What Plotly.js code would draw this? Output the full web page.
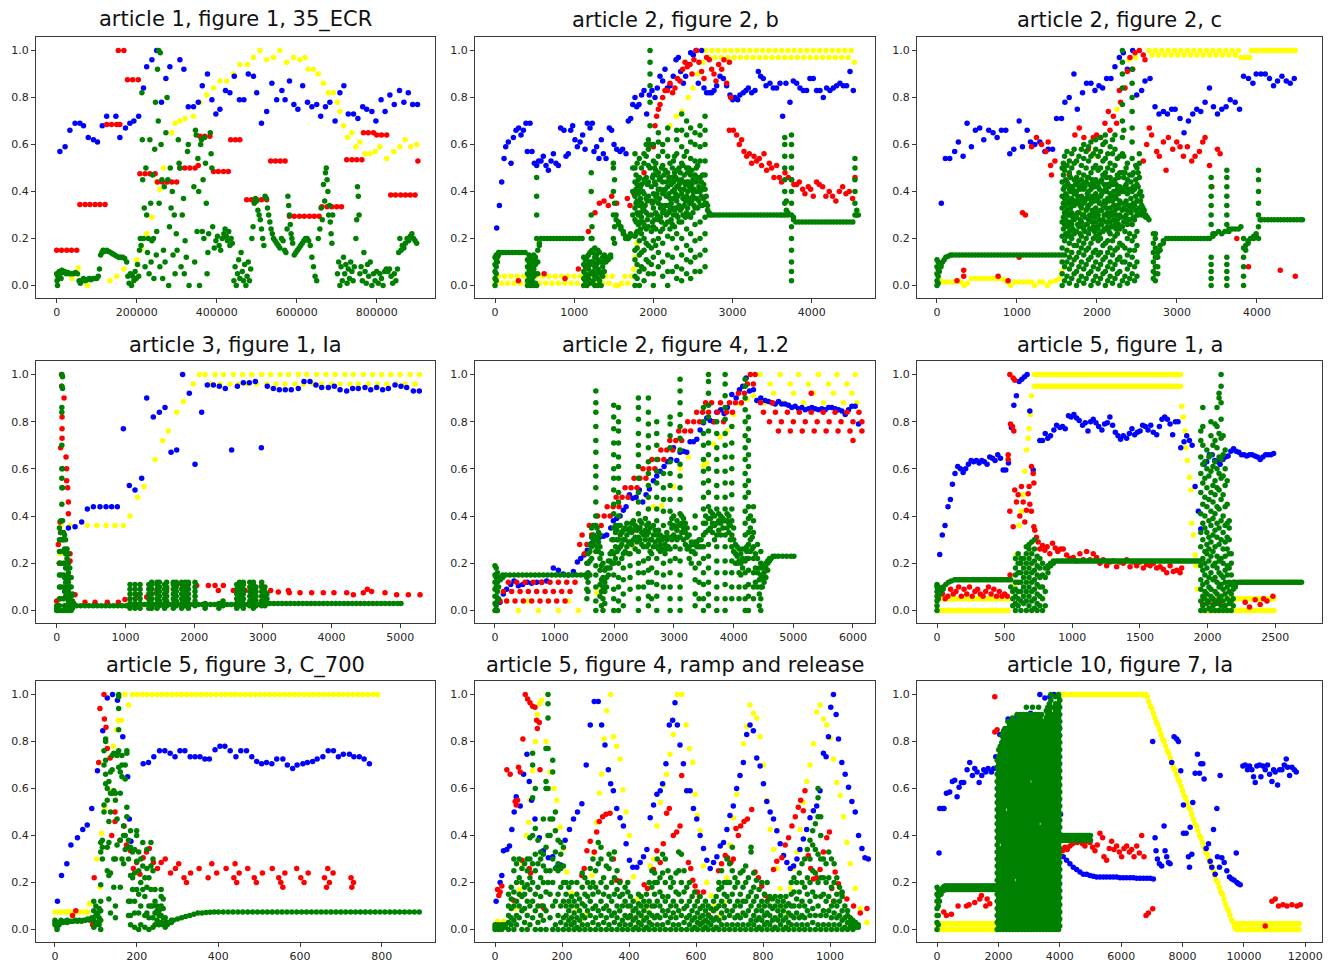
<!DOCTYPE html>
<html><head><meta charset="utf-8">
<script src="https://cdn.plot.ly/plotly-3.0.1.min.js"></script>
<style>html,body{margin:0;padding:0;background:#fff}#chart{width:1338px;height:965px}</style>
</head><body><div id="chart"></div>
<script>
// ---------- DATA (cols: [x, y1, y2, ...]; rows: [y, x1, x2, ...]) ----------
const titles = ["article 1, figure 1, 35_ECR","article 2, figure 2, b","article 2, figure 2, c","article 3, figure 1, Ia","article 2, figure 4, 1.2","article 5, figure 1, a","article 5, figure 3, C_700","article 5, figure 4, ramp and release","article 10, figure 7, Ia"];
const yTickVals = [0,0.2,0.4,0.6,0.8,1.0];
const yTickText = ["0.0","0.2","0.4","0.6","0.8","1.0"];
const xTickSteps = [200000,1000,1000,1000,1000,500,200,200,2000];

// panel 1 (x in thousands)
const p1_blue = [[8,.57],[21,.59],[33,.66],[46,.69],[58,.69],[67,.68],[79,.63],[92,.62],[102,.61],[114,.68],[125,.72],[148,.72],[158,.63],[172,.67],[183,.69],[193,.70],[205,.72],[217,.84],[225,.93],[238,.96],[250,1.0],[262,.78],[273,.88],[283,.93],[308,.96],[318,.92],[329,.76],[342,.76],[354,.78],[364,.85],[377,.90],[388,.79],[398,.73],[408,.75],[422,.83],[433,.82],[444,.89],[457,.79],[468,.79],[479,.90],[492,.89],[500,.82],[512,.69],[525,.74],[538,.86],[550,.79],[563,.83],[571,.79],[582,.87],[593,.77],[603,.75],[615,.85],[627,.78],[638,.76],[650,.77],[660,.72],[672,.76],[683,.78],[696,.70],[708,.82],[718,.85],[729,.73],[742,.73],[753,.71],[765,.76],[775,.75],[788,.74],[798,.70],[811,.79],[821,.74],[833,.81],[844,.77],[857,.83],[868,.78],[879,.82],[890,.77],[902,.77]];
const p1_red_rows = [[0.15,0,12,25,37,50],[0.345,58,71,83,96,108,121],[0.685,125,137,150,158],[1.0,154,168],[0.875,177,190,204],[0.475,208,221,233,246],[0.44,252,264,276,288,300],[0.50,308,320,333,346],[0.51,354],[0.635,358,370,383],[0.485,392,404,417,429],[0.62,435,447,458],[0.365,475,487,500,512,525],[0.53,535,547,559,571],[0.295,582,594,607,619,632,644,656],[0.335,663,676,688,700,712],[0.535,725,738,750,763],[0.65,767,779,792],[0.64,800,812,825],[0.385,835,847,860,872,884,896],[0.53,903]];
const p1_yellow = [[8,.04],[38,.03],[54,.075],[77,0],[133,.02],[150,.04],[168,.07],[200,.11],[213,.16],[225,.22],[238,.29],[250,.44],[258,.41],[267,.50],[288,.65],[296,.69],[308,.70],[321,.71],[342,.72],[358,.78],[375,.81],[392,.84],[408,.87],[425,.87],[442,.90],[458,.94],[477,.94],[492,.97],[508,1.0],[525,.96],[542,.97],[558,1.0],[575,.95],[592,.97],[608,.96],[621,.97],[629,.92],[642,.92],[654,.90],[667,.86],[679,.82],[692,.82],[702,.78],[708,.74],[717,.68],[727,.63],[738,.65],[748,.59],[758,.61],[771,.56],[783,.56],[796,.57],[808,.59],[825,.54],[842,.57],[858,.59],[871,.62],[885,.59],[900,.60]];
const p1_green = [[0,.05],[1,.02],[2,0],[3,.04],[5,.03],[6,.06],[8,.05],[11,.03],[13,.065],[16,.055],[20,.06],[24,.05],[28,.055],[32,.05],[37,.05],[42,.05],[47,.055],[52,.05],[56,.02],[59,.01],[63,.02],[67,.03],[71,.02],[76,.025],[81,.03],[86,.025],[91,.03],[96,.03],[100,.03],[104,.04],[107,.07],
[110,.13],[113,.14],[116,.15],[120,.145],[125,.15],[130,.145],[135,.14],[140,.135],[145,.13],[150,.125],[155,.12],[160,.12],[165,.12],[170,.115],[175,.1],
[178,.04],[181,.01],[184,.05],[187,0],[190,.04],[193,.02],[196,.06],[199,.03],[202,.09],[205,.04],[207,.15],
[209,.2],[211,.17],[213,.82],[214,.62],[215,.45],[217,.2],[219,.33],[221,.08],[223,.5],[225,.3],[227,.14],[229,.2],[231,.05],[233,.62],[235,.35],[236,.1],[238,.19],[240,.47],[242,.2],[243,.03],[245,.58],[247,.78],[249,.13],[250,.23],[252,.92],[254,.7],[255,1.0],[256,.35],[258,.08],[259,.99],[261,.6],[263,.45],[265,.03],[267,.15],[269,.42],[271,.1],[273,.65],
[276,.8],[278,.45],[280,0],[282,.25],[284,.5],[286,.33],[289,.4],[291,.13],[294,.3],[296,.05],[299,.22],[301,.15],[304,.62],[306,.52],[308,.5],[311,.08],[314,.3],[317,.37],[319,.05],[321,.19],[324,.12],[327,.57],[329,.6],[331,0],
[343,.42],[345,.1],[347,.66],[349,.64],[351,.23],[353,.54],[355,.4],[357,0],[360,.6],[362,.62],[364,.23],[366,.45],[368,.2],[370,.63],[372,.52],[374,.35],[376,.05],[378,.14],[380,.22],[384,.65],[386,.56],[388,.5],[390,.25],
[394,.16],[398,.19],[402,.21],[406,.17],[410,.15],[414,.2],[418,.22],[421,.24],[424,.21],[427,.19],[430,.23],[433,.17],[436,.2],[439,.18],
[443,.02],[446,.08],[449,0],[452,.05],[455,.11],[458,.03],[461,.14],[464,.06],[467,.02],[470,.09],[473,0],[476,.04],[479,.1],[482,.02],[485,.07],[488,.2],
[491,.25],[494,.35],[497,.37],[500,.36],[503,.32],[506,.3],[509,.28],[512,.24],[515,.2],[518,.17],[521,.38],[524,.37],[527,.33],[530,.3],[533,.27],[536,.24],[539,.22],[542,.2],[546,.19],[550,.18],[554,.17],[558,.16],[562,.2],[566,.19],[570,.15],[573,.14],
[576,.24],[578,.38],[580,.34],[582,.3],[584,.26],[586,.22],[588,.2],[590,.18],
[594,.13],[598,.14],[602,.15],[606,.16],[610,.17],[614,.18],[618,.19],[622,.2],[626,.2],[630,.19],[634,.17],[638,.12],[642,.08],[646,.04],[650,.02],[654,.2],
[658,.24],[661,.33],[664,.28],[667,.43],[670,.36],[672,.48],[674,.5],[676,.45],[678,.4],[680,.3],[682,.34],[684,.27],[686,.22],[688,.18],[690,.3],
[702,.05],[705,.1],[708,0],[711,.08],[714,.02],[717,.12],[720,.05],[723,.09],[726,.01],[729,.07],[732,.03],[735,.1],[738,.06],[741,.02],[744,.08],[748,.2],[750,.28],[752,.42],[754,.38],[756,.3],[758,.05],[761,.08],[764,.02],
[768,.14],[771,.06],[774,.01],[777,.09],[780,.04],[784,.1],[788,0],[792,.05],[796,.02],[800,.06],[804,.01],[808,.05],[812,.03],[816,0],[820,.06],[824,.07],[828,.06],[832,.07],[836,.04],[840,.01],[844,.05],[848,.02],
[852,.07],[855,.14],[858,.2],[861,.15],[864,.17],[868,.16],[872,.18],[876,.2],[880,.19],[884,.21],[888,.22],[892,.2],[896,.19],[900,.18]];

// panel 2
const p2_blue = [[21,.245],[55,.34],[84,.44],[114,.54],[135,.59],[168,.61],[202,.52],[232,.63],[265,.66],[299,.67],[328,.64],[358,.66],[391,.69],[408,.57],[442,.69],[467,.57],[497,.52],[526,.51],[551,.53],[581,.53],[610,.55],[644,.51],[674,.49],[707,.53],[737,.56],[770,.52],[800,.51],[829,.67],[871,.66],[897,.55],[926,.56],[956,.66],[981,.68],[1010,.62],[1040,.59],[1074,.61],[1107,.64],[1137,.58],[1166,.69],[1200,.67],[1229,.69],[1250,.57],[1284,.59],[1313,.54],[1343,.62],[1368,.56],[1402,.54],[1444,.67],[1473,.66],[1503,.60],[1537,.58],[1579,.57],[1612,.58],[1655,.56],[1684,.70],[1714,.71],[1739,.77],[1768,.80],[1790,.76],[1819,.77],[1852,.81],[1882,.83],[1916,.73],[1949,.81],[1983,.83],[2021,.80],[2050,.84],[2084,.89],[2118,.87],[2147,.92],[2177,.84],[2210,.85],[2252,.89],[2286,.96],[2316,.97],[2345,.91],[2379,.86],[2408,.89],[2442,.94],[2471,.99],[2505,.98],[2539,1.0],[2568,.86],[2610,1.0],[2640,.84],[2673,.82],[2707,.82],[2737,.82],[2766,.83],[2800,.85],[2842,.89],[2884,.88],[2926,.85],[2968,.81],[3002,.79],[3031,.80],[3065,.79],[3094,.81],[3136,.82],[3170,.83],[3200,.84],[3242,.82],[3284,.83],[3326,.91],[3355,.89],[3389,.88],[3423,.85],[3473,.86],[3515,.84],[3557,.84],[3600,.86],[3633,.72],[3675,.86],[3726,.78],[3768,.87],[3810,.86],[3852,.84],[3894,.83],[3936,.83],[3978,.88],[4020,.88],[4062,.83],[4105,.83],[4147,.80],[4189,.84],[4231,.83],[4273,.84],[4315,.85],[4357,.86],[4399,.85],[4441,.85],[4484,.91],[4526,.83]];
const p2_red = [[295,.02],[620,.05],[884,.03],[1053,.07],[1179,.23],[1263,.31],[1318,.35],[1377,.36],[1431,.34],[1474,.38],[1537,.35],[1671,.37],[1705,.34],[1755,.39],[1882,.48],[2000,.59],[2021,.68],[2042,.72],[2063,.75],[2084,.77],[2118,.80],[2147,.83],[2177,.83],[2210,.86],[2244,.82],[2273,.84],[2303,.88],[2336,.87],[2370,.92],[2400,.95],[2429,.93],[2463,.94],[2488,.90],[2513,.96],[2547,1.0],[2576,.95],[2610,.91],[2640,.88],[2673,.97],[2707,.96],[2737,.92],[2766,.90],[2791,.87],[2825,.94],[2863,.92],[2892,.96],[2926,.86],[2960,.95],[2977,.80],[2960,.66],[3010,.66],[3052,.64],[3086,.60],[3115,.62],[3145,.57],[3179,.55],[3212,.56],[3242,.52],[3271,.55],[3305,.53],[3339,.54],[3368,.51],[3398,.56],[3431,.49],[3465,.52],[3494,.50],[3524,.46],[3557,.51],[3591,.46],[3620,.44],[3663,.48],[3705,.46],[3747,.45],[3776,.43],[3810,.43],[3844,.44],[3886,.41],[3915,.39],[3957,.42],[3987,.41],[4020,.38],[4062,.44],[4096,.43],[4138,.42],[4180,.38],[4222,.40],[4264,.38],[4306,.36],[4349,.40],[4391,.42],[4433,.39],[4475,.40],[4517,.37],[4547,.46]];
const p2_yellow = [[1750,.07],[1770,.12],[1790,.18],[2210,.68],[2290,.72],[2360,.74],[2440,.8],[2500,.84],[2560,.9],[2620,.95]];
const p2_yellow_rows = [[0.04,40,120,200,280,360,440,520,600,680,760,840,920,1000,1080,1240,1320,1400,1480,1640,1720],[0.01,0,80,160,240,320,400,480,560,640,720,800,880,960,1040,1200,1280,1360,1440,1600,1680],[0,1120,1160,1520,1560],
[1.0,2660,2740,2820,2900,2980,3060,3140,3220,3300,3380,3460,3540,3620,3700,3780,3860,3940,4020,4100,4180,4260,4340,4420,4500],
[0.97,2700,2780,2860,2940,3020,3100,3180,3260,3340,3420,3500,3580,3660,3740,3820,3900,3980,4060,4140,4220,4300,4380,4460],[0.95,4540]];
const p2_green = [[0,0,.03,.06,.09,.12],[15,.02,.05,.08,.11,.13],[30,.1,.12,.13],[45,.13,.14],
[410,0,.02,.05,.08,.11],[430,.01,.04,.07,.1,.13],[450,0,.03,.06,.09,.12],[470,.02,.05,.08,.11],[490,0,.04,.07,.1,.13],[510,.01,.05,.09,.12],[526,0,.1,.2,.3,.38,.46],[540,.05,.1,.15],[560,.17,.18],
[1120,0,.03,.06,.09,.12],[1140,.02,.05,.08,.11],[1160,0,.04,.08,.12],[1180,.03,.07,.1,.13],[1200,.01,.05,.09,.14],[1215,.05,.1,.2,.3,.4,.48],[1225,.1,.15,.2,.25],[1240,.02,.06,.1,.14],[1260,0,.04,.08,.12,.16],[1280,.05,.09,.13],[1300,0,.03,.07,.11,.15],[1320,.02,.06,.1,.14],[1340,0,.05,.1],[1360,.04,.08,.12],[1380,.06,.1,.13],[1400,.1,.12],[1430,.11,.12],[1460,.12,.13],
[1495,.2,.3,.4,.5,.52],[1510,.18,.25,.35,.45],[1530,.3,.28],[1560,.27,.26],[1590,.25,.24],[1620,.23,.22],[1650,.21,.2],[1680,.2,.2],[1710,.21,.22],[1740,.3,.4,.5],
[1768,0,.04,.11,.15,.21,.28,.33,.38,.44,.5,.56],[1782,.22,.27,.35,.41,.47],[1795,.03,.09,.16,.23,.31,.36,.43,.52],[1810,.26,.3,.39,.45],[1823,0,.06,.13,.19,.27,.34,.4,.46,.54],[1838,.24,.31,.37,.42],[1850,.08,.14,.22,.29,.35,.43,.5],[1866,.27,.33,.4],[1882,.02,.07,.15,.2,.26,.32,.39,.45,.52,.56],[1896,.25,.34,.44],[1910,.11,.18,.24,.31,.37,.46,.55,.6],[1924,.28,.36,.43],[1937,.05,.1,.17,.25,.3,.38,.44,.51,.58,.62],[1958,.5,.6,.68,.78,.85,.9,.95,1.0],[1975,.09,.16,.23,.3,.36,.42],[1988,.27,.35,.46],[2000,0,.05,.12,.19,.25,.33,.39,.47,.53,.6],[2015,.28,.36,.44,.5],[2030,.17,.24,.31,.38,.43,.49,.52],[2046,.3,.39,.47],[2063,.08,.14,.2,.28,.35,.41,.48,.55,.61,.65],[2076,.29,.37,.45],[2090,.23,.29,.33,.41,.46],[2104,.27,.34,.5],[2118,.04,.1,.18,.24,.31,.39,.44,.51,.57,.6],[2134,.32,.4,.47],[2150,.26,.34,.41,.49],[2165,.3,.38,.44],[2181,0,.06,.13,.21,.27,.34,.42,.48,.55,.62,.67],[2196,.31,.39,.46],[2210,.24,.32,.37,.45,.52],[2225,.28,.35,.43],[2240,.06,.12,.2,.26,.33,.4,.46,.5],[2254,.3,.37,.44,.53],[2268,.25,.32,.41,.48,.55],[2282,.33,.39,.46],[2295,.03,.08,.16,.22,.3,.36,.42,.49,.56,.62,.66],[2310,.29,.38,.45],[2325,.27,.34,.43,.5],[2340,.32,.41,.48],[2358,.02,.07,.13,.2,.27,.33,.39,.45,.52,.59,.66,.73],[2374,.3,.37,.44,.51],[2390,.34,.41,.47,.55],[2405,.29,.36,.43],[2420,.05,.11,.17,.24,.31,.38,.44,.5,.57,.64,.7],[2433,.33,.4,.48],[2445,.3,.37,.44,.5],[2458,.35,.42],[2471,.03,.1,.15,.22,.29,.35,.41,.47,.54,.61,.67],[2486,.36,.43,.49],[2500,.31,.38,.45,.4],[2513,.34,.41],[2526,.06,.12,.19,.26,.33,.4,.47,.53,.6,.65],[2543,.37,.44,.5],[2560,.33,.4,.46,.51],[2575,.36,.42],[2590,.06,.13,.2,.27,.34,.4,.46,.53,.59,.64,.68],[2605,.38,.44],[2620,.34,.41,.47],[2636,.37,.43],[2653,.08,.15,.22,.29,.35,.41,.47,.53,.6,.66,.72],[2668,.38,.35],[2685,.34,.32],[2705,.31,.3],[2730,.3],
[3660,.3,.35,.4,.45,.5,.55,.6,.63],[3680,.32,.36],[3700,.31,.3],[3745,.02,.06,.1,.15,.2,.25,.3,.35,.4,.45,.5,.55,.6,.64],[3770,.29,.28],
[4547,.3,.35,.4,.45,.5,.54],[4570,.3,.32],[4590,.3]];
const p2_green_rows = [[0.14,60,100,140,180,220,260,300,340,380],[0.2,580,620,660,700,740,780,820,860,900,940,980,1020,1060,1100],[0.3,2760,2800,2840,2880,2920,2960,3000,3040,3080,3120,3160,3200,3240,3280,3320,3360,3400,3440,3480,3520,3560,3600,3630],[0.27,3800,3840,3880,3920,3960,4000,4040,4080,4120,4160,4200,4240,4280,4320,4360,4400,4440,4480,4520]];

// panel 3
const p3_blue = [[54,.35],[104,.54],[159,.54],[221,.57],[267,.61],[326,.55],[376,.69],[430,.59],[480,.66],[534,.67],[585,.62],[647,.66],[701,.65],[752,.63],[806,.66],[860,.66],[910,.56],[960,.58],[1027,.70],[1069,.59],[1127,.66],[1169,.61],[1223,.60],[1286,.61],[1349,.57],[1390,.58],[1445,.58],[1495,.71],[1557,.71],[1599,.78],[1653,.80],[1712,.90],[1754,.75],[1820,.82],[1870,.86],[1925,.86],[1975,.83],[2025,.85],[2071,.84],[2121,.88],[2175,.88],[2225,.93],[2280,.97],[2330,.99],[2380,.92],[2447,1.0],[2497,.81],[2559,.83],[2601,.87],[2664,.88],[2726,.76],[2776,.73],[2831,.74],[2881,.73],[2935,.75],[2977,.75],[3039,.71],[3089,.65],[3144,.70],[3198,.73],[3248,.75],[3298,.74],[3352,.78],[3407,.84],[3457,.76],[3507,.73],[3561,.75],[3615,.76],[3666,.79],[3728,.78],[3783,.75],[3833,.89],[3895,.88],[3950,.86],[3991,.90],[4050,.90],[4104,.90],[4158,.88],[4208,.85],[4258,.87],[4313,.89],[4367,.87],[4417,.86],[4467,.88]];
const p3_red = [[250,.02],[334,.065],[334,.04],[764,.04],[889,.02],[1027,.12],[1069,.31],[1106,.30],[1182,.59],[1244,.63],[1307,.60],[1361,.57],[1390,.61],[1420,.51],[1432,.47],[1474,.53],[1599,.51],[1653,.47],[1724,.64],[1779,.67],[1837,.63],[1891,.58],[1954,.63],[1996,.64],[2046,.63],[2100,.69],[2142,.74],[2163,.66],[2205,.72],[2246,.69],[2280,.83],[2296,.78],[2351,.84],[2380,.91],[2413,.97],[2447,.92],[2476,.99],[2530,1.0],[2580,.98],[2601,.96],[2580,.53],[2622,.60],[2655,.67],[2684,.64],[2747,.57],[2780,.55],[2831,.61],[2864,.49],[2893,.63],[2948,.58],[2998,.61],[3039,.59],[3081,.55],[3131,.59],[3185,.53],[3227,.55],[3281,.57],[3323,.61],[3352,.63],[3407,.51],[3436,.42],[3507,.58],[3540,.56],[3749,.20],[3895,.08],[4292,.065],[4480,.04]];
const p3_yellow = [[40,.02],[90,.015],[140,.015],[200,.015],[250,.02],[300,.015],[340,0],[380,.01],[430,.03],[480,.03],[530,.03],[580,.03],[630,.03],[680,.03],[730,.03],[780,.03],[830,.025],[880,.015],[920,0],[970,.015],[1020,.015],[1080,.015],[1130,.015],[1180,.015],[1220,0],[1280,.015],[1320,.015],[1380,0],[1420,.015],[1480,.02],[1530,.03],[1560,.06],[1640,.15],[1820,.32],[2000,.55],[2250,.75],[2400,.96],[2480,.97]];
const p3_yellow_rows = [[1.0,2650,2730,2810,2890,2970,3050,3130,3210,3290,3370,3450,3530,3610,3690,3770,3930,3970,4010,4050,4090,4130,4170,4210,4250,4290,4330,4370,4410,4450,4480],[0.98,2690,2770,2850,2930,3010,3090,3170,3250,3330,3410,3490,3570,3650,3730],[0.97,3800,3840,3880,3910]];
const p3_green = [[0,0,.02,.05,.08,.11],[15,.01,.04,.07,.1],[30,.06,.08],[50,.08,.09],[70,.1],[90,.11],[110,.12],[140,.125],[170,.13],
[1565,0,.05,.1,.16,.21,.27,.33,.38,.44,.5],[1580,.24,.29,.35,.41,.47,.52],[1595,.02,.08,.13,.19,.26,.31,.37,.42,.49,.55],[1610,.22,.28,.34,.39,.45],[1625,.04,.1,.15,.21,.27,.32,.38,.44,.51,.57],[1640,.25,.3,.36,.43],[1655,.01,.07,.12,.18,.23,.3,.35,.41,.48,.53],[1670,.21,.27,.33,.4,.46],[1685,.03,.09,.14,.2,.26,.31,.37,.42,.5,.56],[1700,.24,.29,.35,.41],[1715,.05,.11,.17,.22,.28,.34,.39,.45,.52,.58],[1730,.23,.3,.36,.43],[1745,0,.06,.12,.17,.23,.29,.35,.4,.46,.53],[1760,.26,.31,.38,.44],[1775,.02,.08,.14,.19,.25,.31,.36,.42,.48,.55],[1790,.22,.28,.34,.41],[1805,.04,.1,.16,.21,.27,.33,.38,.45,.51,.58],[1820,.25,.3,.37,.43],[1835,.01,.07,.13,.18,.24,.3,.35,.41,.47,.54,.6],[1850,.23,.29,.36,.42],[1865,.03,.09,.15,.2,.26,.32,.37,.44,.5,.57],[1880,.26,.33,.39,.46],[1895,.05,.11,.16,.22,.28,.34,.4,.46,.53,.59],[1910,.24,.3,.37,.43],[1925,0,.06,.12,.18,.24,.29,.35,.41,.48,.55,.61],[1940,.27,.32,.38,.45],[1955,.02,.08,.14,.2,.25,.31,.37,.43,.5,.56],[1970,.23,.29,.36,.42],[1985,.04,.1,.15,.21,.27,.33,.39,.45,.51,.58,.62],[2000,.25,.31,.37,.44],[2015,.01,.07,.13,.19,.24,.3,.36,.42,.49,.55],[2030,.22,.28,.35,.41],[2045,.03,.09,.14,.2,.26,.32,.38,.44,.5,.57,.63],[2060,.26,.32,.39,.45],[2075,.05,.11,.17,.23,.28,.34,.4,.47,.53,.6],[2090,.24,.3,.36,.43],[2105,0,.06,.12,.18,.24,.3,.35,.41,.48,.54,.61,.64],[2120,.27,.33,.4,.46],[2135,.02,.08,.14,.19,.25,.31,.37,.43,.5,.56],[2150,.23,.29,.36,.42],[2165,.04,.1,.16,.22,.27,.33,.39,.46,.52,.59],[2180,.25,.31,.38,.44],[2195,.01,.07,.13,.19,.25,.3,.36,.43,.49,.56,.62],[2210,.28,.34,.4],[2225,.03,.09,.15,.21,.26,.32,.38,.45,.51,.58,.64],[2240,.24,.3,.37,.43],[2255,.05,.11,.16,.22,.28,.34,.41,.47,.54],[2270,.26,.33,.39,.46],[2285,0,.06,.12,.18,.24,.3,.36,.42,.48,.55],[2300,.29,.35,.41],[2318,.02,.1,.17,.25,.32,.4,.48,.56,.63,.7,.77,.84,.9,.95,1.0],[2335,.27,.33,.4,.46,.55,.66],[2350,.04,.1,.16,.23,.29,.35,.42,.48],[2365,.3,.36,.43,.5],[2380,.01,.07,.13,.2,.26,.32,.39,.45,.52],[2395,.28,.34,.41],[2410,.03,.09,.15,.22,.28,.34,.41,.47],[2425,.31,.37,.44],[2440,.05,.12,.19,.26,.33,.4,.47,.54,.61,.67,.74,.8,.86,.92],[2455,.29,.35,.42,.48],[2470,.02,.08,.15,.21,.28,.34,.41],[2485,.32,.38,.45,.51],[2500,.04,.1,.17,.23,.3,.36,.43,.5],[2515,.3,.36,.42,.48],[2530,.33,.39,.46,.52,.56],[2545,.31,.36,.4],[2560,.3,.34,.38],[2575,.31,.33],[2590,.3,.32],[2610,.29,.3],[2630,.29],[2650,.28],
[2705,.03,.06,.1,.14,.18,.22],[2730,.02,.05,.08,.12,.16,.2,.22],[2760,.05,.08,.12,.14],[2790,.15,.17],[2830,.18,.19],[2870,.2],
[3428,0,.03,.06,.09,.12,.26,.3,.34,.38,.42,.46],[3450,.21,.22],[3480,.22],[3520,.23],[3560,.22],[3600,.23],[3624,0,.03,.06,.09,.12,.26,.3,.34,.38,.42,.46,.49],[3650,.23,.24],[3690,.24],[3730,.24],[3770,.24],[3800,.25],[3833,0,.04,.08,.12,.16,.2],[3860,.15,.17],[3890,.18,.19],[3920,.2],[3960,.2,.21],[3990,.21,.22],[4020,.2,.25,.3,.35,.4,.45,.49],[4040,.28]];
const p3_green_rows = [[0.13,200,240,280,320,360,400,440,480,520,560,600,640,680,720,760,800,840,880,920,960,1000,1040,1080,1120,1160,1200,1240,1280,1320,1360,1400,1440,1480,1520,1560],[0.2,2900,2940,2980,3020,3060,3100,3140,3180,3220,3260,3300,3340,3380,3410],[0.28,4060,4100,4140,4180,4220,4260,4300,4340,4380,4420,4460,4500,4540,4570]];

// panel 4
const p4_blue = [[170,.35],[267,.355],[364,.375],[446,.43],[534,.44],[630,.44],[718,.44],[800,.44],[883,.44],[970,.77],[1057,.53],[1140,.51],[1237,.56],[1310,.90],[1406,.82],[1494,.84],[1576,.86],[1664,.67],[1746,.68],[1833,1.0],[1930,.92],[2013,.62],[2110,.84],[2192,.955],[2280,.955],[2367,.95],[2454,.94],[2546,.68],[2629,.95],[2716,.965],[2803,.965],[2891,.97],[2978,.69],[3065,.95],[3153,.94],[3240,.935],[3327,.935],[3414,.935],[3516,.94],[3599,.97],[3686,.97],[3773,.955],[3856,.945],[3953,.945],[4040,.95],[4123,.935],[4220,.93],[4307,.94],[4389,.94],[4486,.945],[4569,.935],[4656,.945],[4743,.935],[4826,.94],[4923,.955],[5010,.95],[5093,.945],[5190,.93],[5277,.93]];
const p4_red = [[0,.04],[24,.28],[39,.2],[48,.375],[55,.33],[58,.69],[78,.73],[78,.77],[78,.82],[107,.90],[73,.95],[70,1.0],[136,.65],[145,.60],[145,.55],[160,.52],[170,.46],[170,.41],[194,.24],[194,.21],[267,.067],[412,.035],[558,.035],[737,.035],[897,.035],[994,.047],[1164,.067],[1310,.057],[1455,.075],[1600,.092],[1746,.113],[1891,.11],[2037,.106],[2207,.106],[2304,.106],[2352,.085],[2425,.106],[2570,.085],[2740,.085],[2852,.104],[2983,.104],[3114,.085],[3225,.078],[3371,.085],[3385,.075],[3541,.075],[3710,.075],[3880,.075],[4035,.075],[4220,.075],[4317,.067],[4462,.075],[4520,.09],[4583,.08],[4777,.075],[4947,.067],[5117,.067],[5287,.067]];
const p4_yellow = [[48,.24],[58,.36],[1067,.40],[1174,.48],[1271,.525],[1431,.64],[1542,.72],[1625,.76],[1746,.84],[1843,.885],[1989,.96],[2076,1.0]];
const p4_yellow_rows = [[0.36,194,446,582,718,849,970],[1.0,2158,2304,2425,2571,2706,2837,2983,3113,3250,3371,3517,3638,3783,3919,4050,4195,4317,4462,4598,4729,4860,4996,5141,5277],[0.96,2231,2377,2522,2643,2774,2910,3056,3191,3322,3468,3589,3735,3856,4001,4123,4268,4389,4535,4666,4802,4937,5068,5214]];
const p4_green = [[0,0,.01,.02],[20,0,.01,.02],[40,.02,.05,.1,.15,.2,.25,.3,.35],[60,0,.05,.1,.15,.2,.25,.3,.33,.38],[75,.45,.52,.56,.6,.7,.84,.86,.95,1.0],[85,.94,.99,.6,.52,.38,.3],[100,0,.05,.1,.15,.2,.25,.3,.33],[115,.02,.08,.14,.2,.26,.32],[130,0,.06,.12,.18,.24,.3],[150,.02,.06,.1,.14,.18,.22,.26],[170,0,.04,.08,.12,.16,.2,.24],[190,.02,.06,.1,.14,.18],[210,0,.03,.06,.1,.14],[230,.01,.04,.07],[250,.02,.03],
[1067,.01,.03,.05,.07,.09,.11],[1140,.01,.03,.05,.07,.09,.11],[1213,.01,.03,.05,.07,.09,.11],[1340,.01,.03,.05,.07,.09,.11],[1382,.01,.03,.05,.07,.09,.11,.12],[1460,.01,.03,.05,.07,.09,.11,.12],[1494,.02,.04,.06,.08,.1,.12],[1570,.01,.03,.05,.07,.09,.11],[1600,.02,.04,.06,.08,.1,.12],[1697,.01,.03,.05,.07,.09,.11,.12],[1740,.02,.04,.06,.08,.1,.12],[1819,.01,.03,.05,.07,.09,.11,.12],[1870,.02,.04,.06,.08,.1,.12],[1916,.01,.03,.05,.07,.09,.11,.12],[2013,.02,.04,.06,.08,.1,.12],[2160,.01,.02,.03],[2360,.01,.03],[2420,.02,.04],
[2620,.01,.03,.05,.07,.09,.11],[2660,.02,.04,.06,.08,.1,.12],[2716,.01,.03,.05,.07,.09,.11,.12],[2810,.02,.04,.06,.08,.1,.12],[2862,.01,.03,.05,.07,.09,.11,.12],[2900,.02,.04,.06,.08,.1],[2983,.02,.04,.06,.08,.1,.12],[3030,.02,.04,.06,.08,.1],[3060,.03,.05,.07]];
const p4_green_rows = [[0.02,290,350,410,470,530,590,650,710,770,830,890,950,1010],[0.025,1100,1160,1220,1280,1340,1400,1460,1520,1580,1640,1700,1760,1820,1880,1940,2000,2060,2120,2180,2240,2300,2360,2420,2480,2540,2600,2660,2720,2780,2840,2900,2960,3020],[0.03,3100,3160,3220,3280,3340,3400,3460,3520,3580,3640,3700,3760,3820,3880,3940,4000,4060,4120,4180,4240,4300,4360,4420,4480,4540,4600,4660,4720,4780,4840,4900,4960,5010]];

// panel 5
const p5_blue = [[28,0],[84,.035],[140,.07],[196,.09],[263,.11],[319,.125],[391,.105],[464,.11],[542,.12],[615,.115],[699,.12],[783,.12],[866,.125],[978,.18],[1062,.17],[1146,.155],[1230,.15],[1314,.165],[1381,.205],[1437,.22],[1493,.235],[1548,.255],[1621,.285],[1677,.30],[1750,.31],[1817,.315],[1873,.32],[1940,.35],[1984,.38],[2040,.39],[2096,.40],[2152,.425],[2197,.44],[2253,.49],[2309,.475],[2365,.48],[2420,.51],[2476,.46],[2532,.49],[2588,.515],[2655,.55],[2711,.57],[2767,.59],[2834,.61],[2890,.63],[2946,.64],[2991,.69],[3047,.635],[3102,.67],[3158,.675],[3214,.67],[3270,.715],[3326,.715],[3382,.725],[3438,.765],[3494,.795],[3550,.815],[3606,.805],[3661,.80],[3717,.84],[3784,.85],[3840,.835],[3896,.86],[3969,.915],[4042,.90],[4097,.935],[4153,.95],[4209,.985],[4265,.93],[4332,.935],[4388,.89],[4455,.90],[4528,.89],[4584,.885],[4640,.88],[4696,.875],[4752,.885],[4807,.875],[4863,.875],[4919,.87],[4975,.86],[5031,.865],[5087,.855],[5143,.86],[5199,.85],[5255,.855],[5311,.86],[5366,.855],[5422,.85],[5478,.855],[5534,.85],[5590,.86],[5646,.86],[5702,.855],[5758,.85],[5814,.845],[5870,.83],[5926,.85],[5982,.865],[6037,.865],[6093,.79]];
const p5_red = [[1420,.28],[1460,.32],[1500,.24],[1540,.28],[1580,.36],[1620,.32],[1680,.36],[1720,.4],[1780,.36],[1830,.4],[1880,.44],[1930,.4],[1980,.44],[2030,.48],[2080,.44],[2130,.48],[2180,.52],[2230,.48],[2280,.52],[2330,.56],[2380,.52],[2430,.56],[2480,.6],[2530,.56],[2580,.6],[2630,.64],[2680,.6],[2730,.64],[2780,.68],[2830,.64],[2880,.68],[2930,.72],[2980,.68],[3030,.72],[3080,.76],[3130,.72],[3180,.76],[3230,.8],[3280,.76],[3330,.8],[3380,.84],[3430,.8],[3480,.84],[3530,.88],[3580,.84],[3630,.88],[3680,.8],[3730,.84],[3780,.88],[3830,.8],[3880,.84],[3930,.88],[3980,.84],[4030,.88],[4080,.92],[4130,.88],[4180,.92],[4230,.96],[4280,1.0],[4330,.96],[4360,1.0]];
const p5_red_rows = [[0.04,84,196,336,475,615,755,895,1034,1174],[0.08,140,280,420,559,699,839,978,1118,1258],[0.12,224,364,503,643,783,922,1062,1202,1341],[0.88,4450,4650],[0.84,4500,4700,4900,5100,5300,5500,5700,5900,6100],[0.80,4600,4800,5000,5200,5400,5600,5800,6000,6150],[0.76,4750,4950,5150,5350,5550,5750,5950,6150],[0.92,5300],[0.72,6000]];
const p5_yellow = [[1705,.075],[1761,.105],[2320,.27],[2432,.38],[2655,.44],[2795,.445],[2991,.525],[3102,.60],[3242,.65],[3494,.615],[3550,.625],[3661,.705],[3773,.735],[3885,.76],[3997,.83],[4109,.875],[4220,.895],[4332,.91]];
const p5_yellow_rows = [[0,391,727,1062,1398],[0.04,196,559,895,1230],[1.0,4444,4780,5087,5422,5730,6037],[0.96,4612,4947,5255,5590,5897],[0.92,4668,5003,5338,5674,5981],[0.88,4528,4835,5171,5506,5842,6065]];
const p5_green = [[0,0,.03,.06,.09,.12,.15,.19],[20,.02,.06,.1,.14,.18],[40,0,.04,.08,.12,.16],[60,.05,.1,.14],[90,.13,.14],[130,.14,.15],
[1540,.05,.09,.14,.2],[1560,.08,.12,.16,.2,.24],[1590,.15,.21,.25,.28],[1620,.22,.27,.31,.35],[1650,.28,.32,.36,.3],
[1690,0,.04,.1,.15,.19,.25,.31,.36,.4,.46,.52,.57,.61,.67,.72,.78,.84,.88,.93],
[1710,.27,.31,.35,.3],[1735,.25,.29,.33],[1760,.06,.11,.17,.22,.27,.32],[1785,.02,.08,.13,.19,.24],[1810,0,.05,.1,.14,.2],[1840,.03,.08,.12,.17],[1870,.1,.14,.18],[1900,.15,.18,.21],[1930,.18,.21,.24],[1960,.2,.25,.3],
[1990,0,.05,.09,.15,.2,.24,.3,.35,.41,.45,.51,.56,.6,.66,.71,.77,.82,.87],
[2020,.22,.27,.33,.36],[2045,.25,.3,.34],
[2070,0,.04,.1,.14,.2,.26,.3,.36,.4,.46,.5,.56,.61,.65,.71,.76,.8,.86],
[2100,.27,.32,.36],[2125,.22,.28,.33],[2150,.02,.07,.13,.18,.24,.3,.34],[2180,.25,.3,.35],[2210,.27,.32,.37],[2240,.24,.29,.34],[2264,.09,.14,.19,.24,.29,.35],[2290,.28,.33,.37],[2320,.3,.34,.38],[2350,.26,.31,.36],[2380,.29,.34],
[2404,0,.05,.1,.16,.2,.25,.31,.35,.41,.46,.5,.56,.61,.66,.7,.75,.81,.86,.9],
[2430,.3,.35,.38],[2460,.28,.33,.37],[2490,.1,.16,.21,.27,.32],[2520,.3,.34,.39],[2545,.27,.32,.36],
[2571,.02,.06,.12,.17,.22,.28,.33,.37,.43,.48,.53,.58,.63,.69,.74,.79,.84,.9],
[2600,.25,.3,.35],[2625,.05,.12,.18,.24,.3],[2655,.27,.32,.36],[2685,.29,.34],
[2711,0,.06,.11,.16,.22,.27,.32,.38,.43,.48,.54,.59,.64,.7,.75,.8],
[2740,.26,.3,.34],[2770,.25,.28,.32],[2800,.26,.3],
[2823,.1,.15,.2,.26,.31,.36,.42,.47,.52,.58],
[2850,.24,.28,.31],[2880,.26,.3,.33],[2905,.27,.31],
[2935,0,.05,.1,.16,.21,.26,.31,.37,.42,.47,.53,.58,.63,.69,.74,.79,.82],
[2965,.3,.35,.39],[2995,.32,.36,.4],[3020,.22,.27,.31,.35],[3050,.3,.34,.38],[3075,.31,.36],
[3102,0,.05,.1,.15,.21,.26,.31,.36,.41,.47,.52,.57,.62,.68,.73,.78,.83,.88,.93,.98],
[3130,.33,.37,.4],[3160,.3,.35,.39],[3190,.28,.33,.37],[3220,.26,.31,.35],[3255,.22,.27,.32],[3290,.2,.25,.29],[3320,.25,.28],
[3354,.02,.07,.13,.18,.24,.29,.35,.4],
[3385,.27,.29],[3420,.05,.12,.2,.27,.3],[3455,.27,.3],
[3494,0,.05,.11,.16,.22,.27,.32,.37,.43,.48,.54,.59,.64,.7,.75,.8,.86],
[3530,.33,.37,.4],
[3578,.02,.07,.12,.18,.23,.28,.34,.39,.44,.5,.55,.6,.66,.71,.76,.82,.87,.92,.97,1.0],
[3610,.35,.39,.42],[3645,.33,.37,.41],[3680,.3,.36,.4],
[3717,0,.05,.1,.16,.21,.27,.32,.37,.43,.48,.53,.59,.64,.69,.75,.8],
[3750,.34,.38,.41],[3785,.32,.37,.4],[3820,.35,.39],
[3857,0,.05,.11,.16,.21,.27,.32,.38,.43,.48,.54,.59,.65,.7,.75,.81,.86,.91,.96,1.0],
[3890,.35,.38,.41],[3920,.33,.37,.4],[3945,.3,.36],
[3969,.05,.1,.16,.21,.27,.32,.38,.43,.49,.54,.6,.65,.71,.78],
[4000,.25,.3,.35],[4030,.2,.24,.28],[4060,.2,.23,.27],[4090,.05,.1,.16,.21,.26],[4120,.15,.2,.24],[4150,.18,.22,.26],
[4193,0,.05,.1,.16,.21,.26,.32,.37,.42,.48,.53,.58,.64,.69,.74,.8,.85,.9,.95,.98],
[4220,.22,.25,.27],
[4248,0,.06,.11,.17,.22,.28,.33,.39,.44,.5,.55,.61,.66,.72,.77,.82],
[4280,.25,.3,.35,.4],[4310,.26,.31],[4332,.05,.1,.16,.22,.27,.33,.38,.44],[4365,.12,.18,.24],[4400,.1,.16,.22,.28],[4430,.02,.07,.13,.18],[4455,0,.05,.1,.15,.2,.25],[4480,.1,.14,.18],[4510,.12,.16,.19],[4540,.14,.18,.2],[4570,.17,.2,.21],[4600,.21,.22],[4630,.22],[4660,.23],[4700,.23]];
const p5_green_rows = [[0.15,180,250,320,390,460,530,600,670,740,810,880,950,1020,1090,1160,1230,1300,1370,1440,1510],[0.23,4750,4820,4890,4960,5010]];

// panel 6
const p6_blue = [[20,.237],[39,.32],[59,.36],[81,.44],[99,.47],[114,.535],[133,.58],[153,.61],[173,.60],[193,.585],[212,.60],[232,.62],[252,.635],[271,.63],[291,.635],[311,.625],[331,.635],[350,.63],[370,.62],[390,.65],[410,.645],[429,.635],[449,.66],[469,.645],[489,.595],[508,.595],[528,.625],[550,.775],[568,.87],[587,.91],[607,.97],[627,.98],[647,.99],[666,1.0],[686,.845],[711,.595],[760,.72],[780,.72],[800,.75],[819,.73],[839,.74],[864,.765],[884,.785],[908,.775],[928,.78],[948,.77],[972,.825],[992,.82],[1012,.83],[1032,.815],[1051,.805],[1076,.785],[1096,.795],[1116,.76],[1135,.80],[1155,.81],[1175,.795],[1195,.78],[1219,.765],[1239,.79],[1259,.795],[1278,.82],[1298,.785],[1318,.755],[1338,.74],[1357,.725],[1377,.74],[1402,.73],[1422,.75],[1441,.77],[1461,.745],[1481,.755],[1501,.76],[1520,.785],[1540,.78],[1560,.765],[1580,.785],[1599,.755],[1624,.745],[1644,.78],[1663,.81],[1683,.82],[1703,.81],[1723,.79],[1742,.745],[1762,.80],[1782,.80],[1802,.69],[1826,.715],[1846,.74],[1866,.72],[1886,.70],[1908,.525],[1932,.42],[1950,.345],[1974,.62],[1994,.63],[2014,.66],[2034,.66],[2053,.635],[2073,.63],[2093,.62],[2113,.64],[2132,.65],[2152,.655],[2172,.675],[2192,.685],[2211,.675],[2231,.67],[2251,.66],[2271,.66],[2290,.655],[2310,.66],[2330,.66],[2350,.655],[2369,.65],[2389,.64],[2409,.65],[2429,.66],[2448,.66],[2468,.66],[2488,.665]];
const p6_red = [[40,.07],[60,.05],[80,.06],[100,.09],[120,.07],[140,.08],[160,.1],[180,.06],[200,.09],[220,.07],[240,.1],[260,.06],[280,.08],[300,.09],[320,.07],[340,.06],[360,.08],[380,.1],[400,.07],[420,.09],[440,.06],[460,.08],[480,.06],[500,.07],[520,.06],[540,.15],
[538,1.0],[563,.985],[575,.975],[543,.79],[558,.78],[568,.76],[526,.66],[526,.64],[538,.42],[563,.355],[575,.51],[587,.46],[600,.49],[612,.40],[624,.525],[637,.46],[649,.375],[661,.425],[674,.495],[686,.45],[698,.61],[711,.58],[716,.54],[698,.42],[681,.525],[716,.355],[723,.34],[735,.31],[748,.29],[760,.26],[780,.275],[797,.255],[814,.27],[834,.24],[854,.285],[874,.265],[893,.25],[913,.26],[933,.26],[958,.235],[982,.22],[1007,.225],[1032,.21],[1056,.24],[1081,.215],[1106,.25],[1130,.215],[1155,.24],[1180,.225],[1204,.2],[1229,.215],[1254,.19],[1278,.205],[1303,.21],[1328,.185],[1352,.205],[1377,.2],[1402,.215],[1427,.185],[1451,.205],[1476,.19],[1501,.205],[1525,.18],[1550,.195],[1575,.19],[1599,.2],[1624,.18],[1649,.185],[1673,.175],[1698,.16],[1723,.19],[1747,.165],[1772,.17],[1797,.16],[1809,.18],
[1965,.025],[2006,.035],[2043,.025],[2093,.035],[2278,.035],[2310,.015],[2352,.045],[2389,.025],[2414,.05],[2439,.04],[2483,.06]];
const p6_yellow = [[575,.105],[587,.235],[607,.36],[624,.42],[637,.49],[649,.59],[661,.68],[674,.73],[681,.77],[691,.83],[698,.91],[1809,.865],[1821,.82],[1834,.76],[1841,.69],[1851,.635],[1866,.565],[1876,.51],[1883,.37],[1895,.32],[1908,.235],[1915,.19],[1925,.09]];
const p6_low_x = [0,15,30,45,60,75,90,105,120,135,150,165,180,195,210,225,240,255,270,285,300,315,330,345,360,375,390,405,420,435,450,465,480,495,510,525];
const p6_top_x = [720,735,750,765,780,795,810,825,840,855,870,885,900,915,930,945,960,975,990,1005,1020,1035,1050,1065,1080,1095,1110,1125,1140,1155,1170,1185,1200,1215,1230,1245,1260,1275,1290,1305,1320,1335,1350,1365,1380,1395,1410,1425,1440,1455,1470,1485,1500,1515,1530,1545,1560,1575,1590,1605,1620,1635,1650,1665,1680,1695,1710,1725,1740,1755,1770,1785,1800];
const p6_end_x = [1965,1980,1995,2010,2025,2040,2055,2070,2085,2100,2115,2130,2145,2160,2175,2190,2205,2220,2235,2250,2265,2280,2295,2310,2325,2340,2355,2370,2385,2400,2415,2430,2445,2460,2475,2490];
const p6_yellow_rows = [[0.05,...p6_low_x],[0,...p6_low_x],[1.0,...p6_top_x],[0.95,...p6_top_x],[0.05,...p6_end_x],[0,...p6_end_x]];
const p6_green = [[0,0,.02,.04,.06,.08,.1,.11],[10,.05,.08,.1],[25,.07,.08],[45,.09,.1],[65,.11],[85,.12],[105,.125],
[545,.13,.1],[560,.05,.02,.08],[580,0,.03,.06,.09,.12,.15,.18,.22],[600,.02,.05,.08,.12,.16,.2,.24],[620,0,.04,.08,.12,.16,.2,.22],[640,.03,.06,.1,.14,.18,.22],[660,0,.04,.08,.12,.16,.2,.24,.27],[680,.02,.06,.1,.14,.18,.22,.26,.28],[700,0,.04,.08,.12,.16,.2,.24,.29],[720,.01,.05,.09,.13,.17,.21,.26,.3],[740,0,.03,.07,.11,.15,.19,.23],[760,.02,.06,.1,.14,.18,.22],[780,0,.05,.1,.15,.2],[800,.02,.08,.14,.18],[820,.16,.18,.19],[840,.19,.2],[860,.2,.21],
[1950,0,.04,.09,.13,.19,.27,.33,.41,.5,.58,.65,.72,.76],[1965,.02,.06,.11,.17,.22,.3,.37,.45,.54,.62,.7,.78,.86],[1980,0,.05,.08,.15,.2,.25,.35,.4,.48,.56,.63],[1995,.03,.07,.12,.18,.24,.28,.33,.44,.52,.6,.68],[2010,.01,.04,.1,.14,.21,.26,.31,.38,.47,.57,.65],[2025,0,.06,.09,.16,.23,.29,.36,.42,.5,.59,.66,.74,.8],[2040,.02,.05,.13,.19,.25,.32,.39,.46,.53,.61,.7],[2055,0,.04,.08,.14,.2,.27,.34,.41,.49,.55,.63,.72,.79],[2070,.03,.07,.12,.18,.23,.31,.37,.44,.52,.6,.69,.78,.86],[2085,0,.05,.1,.16,.21,.28,.35,.43,.51,.58,.65,.75,.9,.92],[2100,.02,.06,.11,.15,.22,.3,.38,.47,.56,.64,.73,.81,.88,.95,1.0],[2115,0,.04,.09,.14,.2,.26,.33,.4,.49,.57,.66,.74],[2130,.02,.07,.12,.17,.23,.29,.36,.44,.53,.6,.68],[2145,0,.05,.1,.15,.19,.26,.31,.37,.45,.55],[2160,.03,.08,.12,.18,.24,.3,.35,.38],[2175,0,.04,.07,.11,.15,.2,.24],[2190,.02,.05,.09,.12],[2205,.1,.11,.12]];
const p6_green_rows = [[0.13,130,145,160,175,190,205,220,235,250,265,280,295,310,325,340,355,370,385,400,415,430,445,460,475,490,505,520,535],[0.21,880,895,910,925,940,955,970,985,1000,1015,1030,1045,1060,1075,1090,1105,1120,1135,1150,1165,1180,1195,1210,1225,1240,1255,1270,1285,1300,1315,1330,1345,1360,1375,1390,1405,1420,1435,1450,1465,1480,1495,1510,1525,1540,1555,1570,1585,1600,1615,1630,1645,1660,1675,1690,1705,1720,1735,1750,1765,1780,1795,1810,1825,1840,1855,1870,1885,1900,1915,1930,1945],[0.12,2230,2245,2260,2275,2290,2305,2320,2335,2350,2365,2380,2395,2410,2425,2440,2455,2470,2485,2500,2515,2530,2545,2560,2575,2590,2605,2620,2635,2650,2665,2680,2695]];

// panel 7
const p7_blue = [[6,.12],[16,.23],[29,.28],[39,.36],[55,.39],[68,.425],[79,.445],[90,.515],[104,.675],[117,.845],[128,.985],[141,1.0],[153,.975],[166,.82],[178,.65],[182,.47],[186,.375],[216,.705],[229,.71],[242,.735],[256,.76],[269,.76],[282,.75],[294,.735],[306,.76],[318,.76],[331,.735],[343,.735],[355,.735],[367,.725],[378,.725],[392,.765],[404,.78],[416,.78],[429,.76],[443,.735],[455,.76],[469,.76],[482,.735],[494,.715],[506,.705],[518,.71],[531,.705],[543,.725],[558,.725],[569,.70],[582,.685],[593,.70],[607,.705],[618,.71],[631,.715],[642,.725],[656,.735],[669,.76],[682,.76],[694,.735],[706,.745],[721,.745],[732,.735],[745,.735],[757,.725],[770,.705]];
const p7_red = [[43,.06],[51,.08],[92,.02],[96,.22],[107,.71],[110,.94],[120,1.0],[121,.895],[125,.86],[128,.77],[135,.73],[139,.40],[147,.50],[147,.46],[159,.38],[169,.44],[175,.36],[185,.335],[192,.26],[200,.285],[208,.235],[216,.305],[224,.33],[231,.345],[241,.285],[251,.26],[260,.285],[270,.30],[283,.24],[295,.26],[303,.28],[316,.22],[322,.20],[332,.24],[353,.26],[375,.22],[384,.28],[396,.24],[419,.26],[438,.22],[441,.28],[445,.20],[451,.24],[472,.26],[488,.22],[493,.20],[508,.24],[532,.26],[548,.22],[553,.20],[558,.18],[563,.24],[592,.26],[602,.22],[610,.20],[620,.24],[660,.22],[665,.18],[668,.26],[672,.20],[681,.24],[725,.22],[727,.18],[731,.20]];
const p7_yellow = [[84,.11],[102,.30],[110,.18],[114,.41],[122,.515],[135,.59],[143,.78],[151,.85],[155,.89],[163,.89],[171,1.0],[180,.955]];
const p7_yellow_rows = [[0.075,0,8,16,24,32,40,48,56,64,72,80],[1.0,190,202,214,226,238,250,262,274,286,298,310,322,334,346,358,370,382,394,406,418,430,442,454,466,478,490,502,514,526,538,550,562,574,586,598,610,622,634,646,658,670,682,694,706,718,730,742,754,766,778,790]];
const p7_green = [[0,.02,.03,.04],[5,0,.01,.03],[10,.02,.03],[15,.03,.04],[20,.03],[25,.035],[30,.03,.04],[35,.035],[40,.035],[45,.035],[50,.04],[55,.035],[60,.04],[65,.035],[70,.04],[75,.04],[80,.045],[85,.04],[90,.05],
[95,.01,.04,.08,.12],[100,.02,.06,.1],[105,.03,.07],[108,.02,.05,.09],[112,0,.04,.08,.12,.19,.33,.37],[116,.3,.35,.38],[120,.5,.53,.7,.76],[124,.62,.66,.72,.81,.8],[128,.55,.6,.35,.25],[132,.13,.23,.37,.46,.63],[136,.07,.24,.5,.58,.67],[140,.58,.68,.74],[144,.59,.75,.3,.18],[148,.05,.1,.3,.55,.58],[152,.74,.75,.47,.36],[156,.94,.99,1.0,.85,.76,.69],[160,.58,.67,.38,.18],[164,.74,.7,.65,.3],[168,.44,.4,.28],[172,.34,.4,.64,.7],[176,.75,.76,.48,.52],[180,.12,.06,.35,.38,.3],[185,.02,.06,.12,.23,.35,.42],[190,.17,.22,.33],[195,.01,.07,.12,.24,.34],[200,.17,.29,.4,.42],[205,0,.07,.15,.25,.33],[210,.02,.1,.2,.3],[215,.17,.27,.37],[220,.01,.06,.14,.22],[225,.07,.18,.26,.34],[230,0,.05,.1,.22],[235,.1,.17,.27,.37],[240,.01,.05,.1,.25,.3],[245,.02,.07,.12,.17],[250,.04,.08,.1],[255,.02,.06,.08],[260,.03,.06,.1,.14,.17],[265,.02,.05,.09,.13],[270,.01,.03,.05],[275,.02,.03],[280,.03],[285,.03,.04],[290,.04],[300,.045],[310,.05],[320,.055],[330,.06],[340,.065],[350,.07],[360,.07],[370,.072],[380,.074],[390,.075]];
const p7_green_rows = [[0.075,400,412,424,436,448,460,472,484,496,508,520,532,544,556,568,580,592,604,616,628,640,652,664,676,688,700,712,724,736,748,760,772,784,796,808,820,832,844,856,868,880,892]];

// panel 8
const p8_blue = [[3,.12],[15,.2],[20,.23],[25,.335],[35,.34],[43,.355],[50,.425],[57,.50],[63,.565],[75,.525],[85,.66],[95,.745],[102,.63],[109,.55],[119,.47],[132,.39],[144,.335],[159,.305],[172,.31],[184,.265],[196,.275],[209,.38],[222,.425],[234,.47],[246,.50],[259,.535],[272,.70],[284,.87],[296,.97],[308,.97],[318,.87],[328,.785],[338,.68],[345,.62],[353,.59],[363,.515],[373,.475],[383,.44],[391,.365],[401,.295],[411,.265],[423,.265],[433,.285],[443,.31],[453,.34],[463,.475],[473,.53],[483,.575],[493,.59],[500,.62],[510,.705],[520,.87],[530,.89],[537,.965],[544,.87],[552,.785],[562,.705],[572,.59],[582,.59],[592,.515],[602,.47],[612,.40],[622,.345],[632,.295],[642,.26],[652,.285],[662,.31],[672,.355],[682,.37],[692,.425],[701,.485],[711,.525],[721,.60],[731,.655],[741,.71],[751,.83],[761,.87],[771,.845],[781,.73],[791,.695],[801,.62],[811,.545],[821,.50],[831,.47],[841,.42],[851,.365],[861,.315],[871,.285],[881,.26],[891,.27],[901,.30],[910,.34],[920,.385],[930,.425],[940,.475],[950,.505],[960,.525],[970,.59],[980,.75],[988,.735],[995,.82],[1002,.945],[1010,1.0],[1018,.915],[1025,.81],[1035,.71],[1045,.66],[1055,.605],[1065,.545],[1075,.50],[1085,.40],[1095,.345],[1104,.305],[1114,.30]];
const p8_red = [[7,.17],[11,.145],[15,.16],[20,.185],[35,.68],[45,.66],[55,.125],[60,.545],[63,.53],[67,.55],[70,.69],[75,.67],[80,.295],[83,.81],[90,1.0],[97,.98],[102,.26],[104,.965],[106,.24],[112,.95],[119,.945],[124,.89],[126,.855],[132,.88],[134,.68],[139,.10],[146,.09],
[259,.23],[266,.26],[274,.335],[284,.375],[296,.33],[303,.415],[311,.46],[321,.48],[331,.49],[343,.495],[353,.30],[363,.21],[373,.205],[403,.057],[445,.19],[455,.175],[473,.255],[483,.335],[493,.285],[502,.365],[512,.495],[520,.515],[532,.40],[542,.415],[552,.44],[557,.655],[577,.285],[584,.26],[590,.21],[597,.185],[604,.16],[610,.14],[622,.16],[637,.062],[667,.25],[676,.28],[687,.315],[694,.305],[704,.285],[711,.30],[719,.43],[726,.40],[733,.44],[743,.46],[753,.47],[766,.51],[776,.245],[786,.22],[796,.185],[806,.145],[816,.13],[831,.255],[841,.29],[856,.305],[866,.36],[876,.39],[886,.44],[896,.48],[905,.52],[912,.55],[920,.505],[925,.59],[935,.315],[942,.26],[950,.215],[960,.22],[970,.255],[980,.33],[990,.39],[998,.415],[1005,.175],[1010,.12],[1015,.245],[1025,.195],[1035,.155],[1050,.13],[1070,.10],[1090,.07],[1110,.09]];
const p8_yellow = [[7,.035],[25,.035],[60,.09],[73,.17],[83,.28],[93,.40],[100,.455],[104,.55],[112,.675],[120,.80],[126,.915],[132,.96],[139,.975],[152,.80],[164,.67],[176,.60],[184,.55],[194,.435],[204,.345],[214,.245],[229,.155],[244,.09],[259,.045],[274,.07],[289,.23],[296,.325],[303,.455],[311,.58],[318,.66],[325,.81],[333,.93],[345,1.0],[353,.82],[363,.78],[373,.725],[381,.595],[391,.50],[401,.40],[413,.225],[425,.13],[438,.057],[451,.085],[463,.27],[473,.30],[483,.44],[493,.54],[502,.615],[512,.66],[522,.745],[532,.83],[544,1.0],[557,1.0],[570,.87],[580,.77],[590,.71],[597,.575],[604,.485],[612,.42],[622,.27],[632,.20],[644,.145],[657,.10],[672,.06],[682,.115],[692,.22],[701,.36],[711,.475],[721,.575],[731,.655],[741,.79],[751,.865],[761,.955],[771,.92],[781,.90],[791,.82],[801,.70],[811,.55],[821,.425],[831,.34],[841,.26],[851,.175],[861,.10],[871,.07],[881,.175],[891,.26],[901,.33],[910,.425],[920,.54],[930,.63],[940,.70],[950,.79],[960,.925],[970,.955],[980,.895],[990,.87],[1000,.815],[1010,.725],[1020,.625],[1030,.57],[1040,.48],[1050,.37],[1060,.28],[1075,.175],[1090,.09],[1110,.03]];
const p8_green = [[0,0,.01,.02],[10,0,.01,.02],[20,0,.01,.02],[30,.01,.02],[40,0,.03,.06,.1,.15],[48,.02,.05,.09,.13,.18],[56,0,.04,.1,.16,.25,.3],[64,.02,.06,.12,.2,.28],[72,.05,.1,.15,.22,.3],[80,0,.08,.14,.2,.26],[88,.03,.09,.15,.18,.28],[96,0,.06,.12,.19,.25,.3],[104,.02,.1,.17,.22,.3,.39],[112,.05,.12,.2,.28,.4,.56,.7,.75],[120,0,.08,.15,.25,.32,.43,.6],[128,.03,.1,.18,.28,.38],[136,0,.06,.14,.22,.3,.33],[144,.04,.1,.2,.27,.32,.47],[152,0,.08,.16,.25,.35,.6,.63,.77],[158,.2,.4,.6,.77,.9,.96,1.0],[164,.05,.15,.25,.4,.47],[172,0,.1,.2,.3,.47,.67,.72],[180,.02,.12,.26,.33,.42,.5],[188,0,.06,.15,.25,.28,.38],[196,.03,.1,.18,.26,.32,.37],[204,0,.05,.12,.2,.27,.35],[212,.02,.06,.1,.15,.2],[220,0,.04,.08,.12,.18],[228,.02,.05,.1,.14,.2],[236,0,.03,.07,.12],[244,.01,.05,.1,.15,.2],[252,0,.04,.08,.13],[260,.02,.06,.11,.18,.24],[268,0,.05,.1,.15,.22],[276,.02,.08,.14,.2],[284,0,.06,.12,.18,.26],[292,.03,.09,.15,.2,.3],[300,0,.05,.1,.18,.25],[308,.02,.08,.16,.28,.37],[316,0,.06,.12,.2,.3,.35],[324,.03,.09,.15,.22],[332,0,.05,.1,.18,.27],[340,.02,.08,.14,.26,.32],[348,0,.06,.12,.2,.3],[356,.03,.07,.15,.22,.33],[364,0,.05,.1,.17,.25],[372,.02,.08,.14,.2],[380,0,.04,.1,.15],[388,.02,.06,.12,.18],[396,0,.05,.1,.16,.2],[404,.02,.06,.1,.14],[412,0,.04,.08,.12],[420,.01,.05,.09],[428,0,.03,.07,.11,.15],[436,.02,.06,.1,.14],[444,0,.04,.08,.12],[452,.01,.05,.1,.15],[460,0,.03,.07,.12,.2],[468,.02,.06,.1,.18,.25],[476,0,.05,.1,.15,.2,.24],[484,.02,.06,.12,.2,.3],[492,0,.05,.1,.16,.22],[500,.02,.08,.14,.24,.32],[508,0,.06,.12,.2,.3],[516,.03,.08,.14,.25],[524,0,.05,.1,.18,.22],[532,.02,.07,.12,.2],[540,0,.05,.1,.16,.24],[548,.02,.08,.15,.25,.33],[556,0,.06,.12,.2,.32],[564,.03,.09,.16,.25],[572,0,.05,.1,.18],[580,.02,.06,.12,.2],[588,0,.04,.08,.14],[596,.01,.05,.1,.16],[604,0,.03,.07,.12],[612,.02,.05,.09,.14],[620,0,.03,.06,.1],[628,.01,.04,.08,.12],[636,0,.03,.06,.1],[644,.02,.05,.09],[652,0,.04,.08,.12],[660,.01,.05,.09,.14],[668,0,.04,.1,.17,.2],[676,.02,.07,.12,.18,.25],[684,0,.05,.1,.15,.2],[692,.02,.08,.14,.2,.3],[700,0,.06,.12,.2,.28],[708,.02,.08,.15,.25,.35],[716,0,.05,.1,.18,.22],[724,.02,.06,.12,.2],[732,0,.05,.1,.15,.24],[740,.02,.07,.12,.18,.25],[748,0,.06,.12,.2,.27],[756,.02,.08,.14,.22],[764,0,.04,.1,.16,.33,.35],[772,.02,.06,.12,.18,.24],[780,0,.04,.08,.14,.21],[788,.01,.05,.1,.17],[796,0,.04,.08,.12,.2],[804,.02,.06,.1,.15],[812,0,.03,.07,.12,.2],[820,.02,.06,.1,.14],[828,0,.04,.09,.13],[836,.01,.05,.1,.14],[844,0,.04,.08,.12],[852,.02,.06,.1,.14],[860,0,.04,.08,.12],[868,.01,.05,.1,.14],[876,0,.03,.07,.11],[884,.02,.06,.1,.15,.2],[892,0,.05,.1,.16,.22],[900,.02,.07,.13,.2],[908,0,.05,.1,.16,.24],[916,.02,.06,.12,.2,.28],[924,0,.05,.1,.18,.3],[932,.02,.08,.15,.22,.34],[940,0,.06,.12,.2,.3,.38],[948,.03,.09,.16,.25,.36,.42],[956,0,.06,.14,.24,.34,.45],[964,.02,.1,.2,.32,.48,.56,.6],[972,0,.06,.14,.22,.3,.4,.48],[980,.02,.08,.15,.22,.3],[988,0,.06,.12,.2,.28],[996,.02,.08,.14,.22,.33],[1004,0,.05,.1,.18,.3],[1012,.02,.07,.12,.2,.28],[1020,0,.05,.1,.15,.22],[1028,.02,.06,.12,.18],[1036,0,.04,.08,.14,.16],[1044,.01,.05,.1],[1052,0,.03,.06,.08],[1060,.01,.03,.05],[1068,0,.02,.04],[1076,.01,.03],[1084,.01,.02]];

// panel 9
const p9_blue = [[65,.325],[87,.515],[174,.515],[228,.515],[305,.58],[413,.585],[500,.63],[577,.635],[653,.565],[718,.605],[794,.625],[870,.625],[979,.68],[1066,.71],[1153,.655],[1229,.685],[1306,.67],[1371,.625],[1458,.655],[1523,.68],[1589,.67],[1665,.685],[1773,.67],[1850,.685],[1915,.735],[2045,.83],[2176,.845],[2317,.895],[2481,.895],[2611,.91],[2753,.87],[2894,.875],[3046,.92],[3155,.91],[3351,1.0],[3514,.985],[3677,.99],[3808,1.0],[3982,.86],[4025,.49],[4091,.38],[4113,.31],[4221,.295],[4330,.28],[4439,.265],[4548,.255],[4657,.245],[4765,.235],[4874,.235],[4983,.23],[5092,.227],[5200,.223],[5309,.223],[5418,.223],[5527,.223],[5636,.223],[5744,.223],[5853,.223],[5962,.22],[6071,.22],[6180,.22],[6289,.22],[6397,.22],[6506,.218],[6615,.218],[6724,.218],[6833,.218],[6941,.218],[7050,.215],[7028,.80],[7105,.39],[7137,.335],[7181,.30],[7246,.28],[7322,.27],[7398,.44],[7431,.335],[7485,.31],[7540,.285],[7594,.28],[7649,.71],[7725,.82],[7812,.81],[7866,.80],[7942,.675],[8030,.53],[8030,.41],[8117,.41],[8193,.31],[8226,.265],[8248,.435],[8302,.32],[8335,.54],[8411,.665],[8487,.745],[8552,.665],[8596,.705],[8661,.705],[8704,.64],[8770,.345],[8846,.365],[8900,.29],[8954,.265],[9009,.425],[9063,.235],[9118,.515],[9139,.31],[9205,.265],[9226,.655],[9281,.305],[9357,.285],[9444,.25],[9531,.223],[9607,.215],[9683,.21],[9770,.20],[9824,.195],[9879,.19],[9750,.325],[9966,.695],[10042,.70],[10118,.68],[10184,.695],[10260,.68],[10314,.65],[10369,.625],[10423,.695],[10510,.70],[10554,.65],[10619,.695],[10695,.68],[10771,.70],[10837,.66],[10913,.63],[10967,.68],[11021,.67],[11098,.615],[11163,.68],[11239,.68],[11315,.70],[11380,.725],[11424,.69],[11489,.655],[11565,.69],[11642,.68],[11707,.67]];
const p9_red = [[218,.075],[305,.06],[468,.065],[686,.10],[958,.10],[1044,.105],[1229,.115],[1393,.13],[1447,.145],[1589,.10],[1632,.13],[1719,.11],[1882,.99],[1882,.84],[1958,.85],[2100,.39],[2154,.49],[2263,.435],[2317,.615],[2481,.37],[2698,.345],[2829,.35],[2970,.54],[3079,.35],[3188,.435],[3351,.55],[3460,.535],[3569,.455],[3699,.415],[3786,.295],[3895,.295],[4003,.315],[4091,.335],[4167,.35],[4243,.34],[4330,.355],[4417,.365],[4493,.375],[4570,.37],[4657,.375],[4744,.365],[4820,.355],[4896,.375],[4983,.37],[5070,.35],[5146,.335],[5222,.36],[5309,.41],[5396,.39],[5440,.31],[5527,.295],[5614,.345],[5690,.375],[5766,.34],[5853,.355],[5940,.33],[6016,.31],[6092,.345],[6180,.355],[6267,.33],[6343,.34],[6419,.31],[6506,.355],[6593,.325],[6669,.40],[6745,.31],[6811,.06],[6887,.07],[7028,.088],[10695,.015],[10913,.12],[11021,.13],[11130,.10],[11272,.105],[11402,.10],[11565,.105],[11728,.10],[11837,.105]];
const p9_yellow = [[3100,.55],[3240,.6],[3600,.5],[6850,.99],[6900,.97],[6950,.95],[7000,.94],[7050,.92],[7100,.9],[7150,.88],[7200,.87],[7250,.85],[7300,.83],[7350,.81],[7400,.8],[7450,.78],[7500,.76],[7550,.75],[7600,.73],[7650,.71],[7700,.69],[7750,.68],[7800,.66],[7850,.64],[7900,.63],[7950,.61],[8000,.59],[8050,.57],[8100,.56],[8150,.54],[8200,.52],[8250,.51],[8300,.49],[8350,.47],[8400,.45],[8450,.44],[8500,.42],[8550,.4],[8600,.39],[8650,.37],[8700,.35],[8750,.33],[8800,.32],[8850,.3],[8900,.28],[8950,.27],[9000,.25],[9050,.23],[9100,.21],[9150,.2],[9200,.18],[9250,.16],[9300,.15],[9350,.13],[9400,.11],[9450,.09],[9500,.08],[9550,.06],[9600,.04],[9650,.03],[9700,.01]];
const p9_band_left_x = [0,50,100,150,200,250,300,350,400,450,500,550,600,650,700,750,800,850,900,950,1000,1050,1100,1150,1200,1250,1300,1350,1400,1450,1500,1550,1600,1650,1700,1750,1800,1850,1900,1950];
const p9_band_right_x = [9750,9800,9850,9900,9950,10000,10050,10100,10150,10200,10250,10300,10350,10400,10450,10500,10550,10600,10650,10700,10750,10800,10850,10900,10950,11000,11050,11100,11150,11200,11250,11300,11350,11400,11450,11500,11550,11600,11650,11700,11750,11800];
const p9_top_x = [3900,3950,4000,4050,4100,4150,4200,4250,4300,4350,4400,4450,4500,4550,4600,4650,4700,4750,4800,4850,4900,4950,5000,5050,5100,5150,5200,5250,5300,5350,5400,5450,5500,5550,5600,5650,5700,5750,5800,5850,5900,5950,6000,6050,6100,6150,6200,6250,6300,6350,6400,6450,6500,6550,6600,6650,6700,6750,6800];
const p9_yellow_rows = [[0,...p9_band_left_x],[0.025,...p9_band_left_x],[0,...p9_band_right_x],[0.025,...p9_band_right_x],[1.0,...p9_top_x]];
const p9_green_flat_x = [300,350,400,450,500,550,600,650,700,750,800,850,900,950,1000,1050,1100,1150,1200,1250,1300,1350,1400,1450,1500,1550,1600,1650,1700,1750,1800,1850,1900,1950];
const p9_green_step_x = [4050,4100,4150,4200,4250,4300,4350,4400,4450,4500,4550,4600,4650,4700,4750,4800,4850,4900,4950,5000];
const p9_green_rows = [[0.17,...p9_green_flat_x],[0.185,...p9_green_flat_x],[0.38,...p9_green_step_x],[0.40,...p9_green_step_x]];
const p9_green = [[0,0,.03,.06,.09,.12,.15,.18],[40,.02,.06,.1,.14,.17],[80,.12,.15,.17],[130,.15,.17],[200,.165,.18],[250,.17,.185],
[1960,0,.03,.06,.09,.12,.15,.18,.21,.24,.27,.3,.33,.36,.39,.42,.45,.48,.51,.54,.57,.6,.63,.66,.69,.72],
[2010,.015,.045,.075,.105,.135,.165,.195,.225,.255,.285,.315,.345,.375,.405,.435,.465,.495,.525,.555,.585,.615,.645,.675,.705,.735,.765],
[2060,0,.03,.06,.09,.12,.15,.18,.21,.24,.27,.3,.33,.39,.42,.45,.48,.51,.54,.57,.6,.63,.66,.69,.72,.75,.78],
[2110,.015,.045,.075,.105,.135,.165,.195,.225,.255,.285,.315,.345,.375,.405,.435,.465,.495,.525,.555,.585,.615,.645,.675,.705,.735,.765,.795,.825],
[2160,0,.03,.06,.09,.12,.15,.18,.21,.24,.27,.3,.33,.36,.39,.42,.45,.48,.51,.54,.57,.6,.63,.66,.69,.72,.75,.78,.81,.84],
[2210,.015,.045,.075,.105,.135,.165,.195,.225,.255,.285,.315,.345,.375,.405,.435,.465,.495,.525,.555,.585,.615,.645,.675,.705,.735,.765,.795,.825,.855],
[2260,0,.03,.06,.09,.12,.15,.18,.21,.24,.27,.3,.33,.36,.39,.42,.45,.48,.54,.57,.6,.63,.66,.69,.72,.75,.78,.81,.84],
[2310,.015,.045,.075,.105,.135,.165,.195,.225,.255,.285,.315,.345,.375,.405,.435,.465,.495,.525,.555,.585,.615,.645,.675,.705,.735,.765,.795,.825,.855,.885],
[2360,0,.03,.06,.09,.12,.15,.18,.21,.24,.27,.3,.33,.36,.39,.42,.45,.48,.51,.54,.57,.6,.63,.66,.69,.72,.75,.78,.81,.84,.87],
[2410,.015,.045,.075,.105,.135,.165,.195,.225,.255,.285,.315,.345,.375,.405,.435,.465,.495,.525,.555,.585,.615,.645,.675,.705,.735,.765,.795,.825,.855,.885],
[2460,0,.03,.06,.09,.12,.15,.18,.21,.24,.27,.3,.33,.36,.39,.42,.45,.48,.51,.54,.57,.6,.63,.66,.69,.72,.75,.78,.81,.84,.87,.9],
[2510,.015,.045,.075,.105,.135,.165,.195,.225,.255,.285,.315,.345,.375,.405,.435,.465,.495,.525,.555,.585,.615,.645,.675,.705,.735,.765,.795,.825,.855,.885],
[2560,0,.03,.06,.09,.12,.15,.18,.24,.27,.3,.33,.36,.39,.42,.45,.48,.51,.54,.57,.6,.63,.66,.69,.72,.75,.78,.81,.84,.87],
[2610,.015,.045,.075,.105,.135,.165,.195,.225,.255,.285,.315,.345,.375,.405,.435,.465,.495,.525,.555,.585,.615,.645,.675,.705,.735,.765,.795,.825,.855,.885,.915],
[2660,0,.03,.06,.09,.12,.15,.18,.21,.24,.27,.3,.33,.36,.39,.42,.45,.48,.51,.54,.57,.6,.63,.66,.69,.72,.75,.78,.81,.84,.87,.9],
[2710,.015,.045,.075,.105,.135,.165,.195,.225,.255,.285,.315,.345,.375,.405,.435,.465,.495,.525,.555,.585,.615,.645,.675,.705,.735,.765,.795,.825,.855,.885,.915],
[2760,0,.03,.06,.09,.12,.15,.18,.21,.24,.27,.3,.33,.36,.39,.42,.45,.48,.51,.54,.57,.6,.63,.66,.69,.72,.75,.78,.81,.84,.87,.9],
[2810,.015,.045,.075,.105,.135,.165,.195,.225,.255,.285,.315,.345,.375,.405,.435,.465,.495,.525,.555,.585,.615,.645,.675,.705,.735,.765,.795,.825,.855,.885,.915],
[2860,0,.03,.06,.09,.12,.15,.18,.21,.24,.27,.3,.33,.36,.39,.42,.45,.48,.51,.54,.57,.6,.63,.66,.69,.72,.75,.78,.81,.84,.87,.9],
[2910,.015,.045,.075,.105,.135,.165,.195,.225,.255,.285,.315,.345,.375,.405,.435,.465,.495,.525,.555,.585,.615,.645,.675,.705,.735,.765,.795,.825,.855,.885,.915,.945],
[2960,0,.03,.06,.09,.12,.15,.18,.21,.24,.27,.3,.33,.36,.39,.42,.45,.48,.51,.54,.57,.6,.63,.66,.69,.72,.75,.78,.81,.84,.87,.9],
[3010,.015,.045,.075,.105,.135,.165,.195,.225,.255,.285,.315,.345,.375,.405,.435,.465,.495,.525,.555,.585,.615,.645,.675,.705,.735,.765,.795,.825,.855,.885,.915],
[3060,0,.03,.06,.09,.12,.15,.18,.21,.24,.27,.3,.33,.36,.39,.42,.45,.48,.51,.54,.57,.6,.66,.69,.72,.75,.78,.81,.84,.87,.9],
[3110,.015,.045,.075,.105,.135,.165,.195,.225,.255,.285,.315,.345,.375,.405,.435,.465,.495,.525,.555,.585,.615,.645,.675,.705,.735,.765,.795,.825,.855,.885,.915,.945],
[3160,0,.03,.06,.09,.12,.15,.18,.21,.24,.27,.3,.33,.36,.39,.42,.45,.48,.51,.54,.57,.6,.63,.66,.69,.72,.75,.78,.81,.84,.87,.9],
[3210,.015,.045,.075,.105,.135,.165,.195,.225,.255,.285,.315,.345,.375,.405,.435,.465,.495,.525,.555,.585,.615,.645,.675,.705,.735,.765,.795,.825,.855,.885,.915],
[3260,0,.03,.06,.09,.12,.15,.18,.21,.24,.27,.3,.33,.36,.39,.42,.45,.48,.51,.54,.57,.6,.63,.66,.69,.72,.75,.78,.81,.84,.87,.9],
[3310,.015,.045,.075,.105,.135,.165,.195,.225,.255,.285,.315,.345,.375,.405,.435,.465,.495,.525,.555,.585,.615,.645,.675,.705,.735,.765,.795,.825,.855,.885,.915,.945],
[3360,0,.03,.06,.09,.12,.15,.18,.21,.24,.27,.3,.33,.36,.39,.42,.48,.51,.54,.57,.6,.63,.66,.69,.72,.75,.78,.81,.84,.87,.9],
[3410,.015,.045,.075,.105,.135,.165,.195,.225,.255,.285,.315,.345,.375,.405,.435,.465,.495,.525,.555,.585,.615,.645,.675,.705,.735,.765,.795,.825,.855,.885,.915],
[3460,0,.03,.06,.09,.12,.15,.18,.21,.24,.27,.3,.33,.36,.39,.42,.45,.48,.51,.54,.57,.6,.63,.66,.69,.72,.75,.78,.81,.84,.87],
[3510,.015,.045,.075,.105,.135,.165,.195,.225,.255,.285,.315,.345,.375,.405,.435,.465,.495,.525,.555,.585,.615,.645,.675,.705,.735,.765,.795,.825,.855,.885],
[3560,0,.03,.06,.09,.12,.15,.18,.21,.24,.27,.3,.33,.36,.39,.42,.45,.48,.51,.54,.57,.6,.63,.66,.69,.72,.75,.78,.81,.84,.87,.9,.93],
[3610,.015,.045,.075,.105,.135,.165,.195,.225,.255,.285,.315,.345,.375,.405,.435,.465,.495,.525,.555,.585,.615,.645,.675,.705,.735,.765,.795,.825,.855,.885,.915,.945],
[3660,0,.03,.06,.09,.12,.15,.18,.21,.24,.27,.3,.33,.36,.39,.42,.45,.48,.51,.54,.57,.6,.63,.66,.69,.72,.75,.78,.81,.84,.87,.9,.93,.96],
[3710,.015,.045,.075,.105,.135,.165,.195,.225,.255,.285,.315,.345,.375,.405,.435,.465,.495,.525,.555,.585,.615,.645,.675,.705,.735,.765,.795,.825,.855,.885,.915,.945,.975,1.0],
[3760,0,.03,.06,.09,.12,.15,.18,.21,.24,.27,.3,.33,.36,.39,.42,.45,.48,.51,.54,.57,.6,.63,.66,.69,.72,.75,.78,.81,.84,.87,.9],
[3810,.015,.045,.075,.105,.135,.165,.195,.225,.255,.285,.315,.345,.375,.405,.435,.465,.495,.525,.555,.585,.615,.645,.675,.705,.735,.765,.795,.825,.855,.885,.915,.945],
[3860,0,.03,.06,.09,.12,.15,.18,.21,.24,.27,.3,.33,.36,.39,.42,.45,.48,.51,.54,.57,.6,.63,.66,.69,.72,.75,.78,.81,.84,.87,.9,.93,.96,.99],
[3910,.015,.045,.075,.105,.135,.165,.195,.225,.255,.285,.315,.345,.375,.405,.435,.465,.495,.525,.555,.585,.615,.645,.675,.705,.735,.765,.795,.825,.855,.885,.915,.945],
[3960,0,.03,.06,.09,.12,.15,.18,.21,.24,.27,.3,.33,.36,.39,.42,.45,.48,.51,.54,.57,.6,.63,.66,.69,.72,.75,.78,.81,.84,.87,.9,.93,.96,.99,1.0],
[4000,.015,.045,.075,.105,.135,.165,.195,.225,.255,.285,.315,.345,.375,.405,.435,.465,.495,.525,.555,.585,.615,.645,.675,.705,.735,.765,.795,.825,.855,.885,.915,.945,.975]];

// ---------- LAYOUT GEOMETRY (pixels in the 1338x965 page) ----------
const W = 1338, H = 965;
const colPx = [[36,435],[475,875],[917,1322]];
const rowPx = [[37,298],[361,623],[681,942]];
const titleY = [20,345,665];
const xRanges = [[-51700,945800],[-253,4800],[-250,4814],[-301,5505],[-335,6369],[-148,2846],[-46.5,930.6],[-60,1134],[-653,12545]];
const yRange = [-0.053,1.057];

const panels = [
  {unit:1000, s:{yellow:[p1_yellow],blue:[p1_blue],red:[[],p1_red_rows],green:[p1_green]}},
  {unit:1, s:{yellow:[p2_yellow,p2_yellow_rows],blue:[p2_blue],red:[p2_red],green:[p2_green,p2_green_rows]}},
  {unit:1, s:{yellow:[p3_yellow,p3_yellow_rows],blue:[p3_blue],red:[p3_red],green:[p3_green,p3_green_rows]}},
  {unit:1, s:{yellow:[p4_yellow,p4_yellow_rows],blue:[p4_blue],red:[p4_red],green:[p4_green,p4_green_rows]}},
  {unit:1, s:{yellow:[p5_yellow,p5_yellow_rows],blue:[p5_blue],red:[p5_red,p5_red_rows],green:[p5_green,p5_green_rows]}},
  {unit:1, s:{yellow:[p6_yellow,p6_yellow_rows],blue:[p6_blue],red:[p6_red],green:[p6_green,p6_green_rows]}},
  {unit:1, s:{yellow:[p7_yellow,p7_yellow_rows],blue:[p7_blue],red:[p7_red],green:[p7_green,p7_green_rows]}},
  {unit:1, s:{yellow:[p8_yellow],blue:[p8_blue],red:[p8_red],green:[p8_green]}},
  {unit:1, s:{yellow:[p9_yellow,p9_yellow_rows],blue:[p9_blue],red:[p9_red],green:[p9_green,p9_green_rows]}}
];
const COLORS = {yellow:'#ffff00', blue:'#0000ff', red:'#ff0000', green:'#008000'};
const ORDER = ['yellow','blue','red','green'];

const traces = [];
const layout = {width:W, height:H, margin:{l:0,r:0,t:0,b:0}, paper_bgcolor:'#fff', plot_bgcolor:'#fff', showlegend:false, hovermode:false, annotations:[]};
const tickFont = {family:'DejaVu Sans, sans-serif', size:11, color:'#262626'};

panels.forEach((p, i) => {
  const sfx = i ? String(i+1) : '';
  const col = i % 3, row = Math.floor(i / 3);
  ORDER.forEach(c => {
    const [cols, rows] = p.s[c];
    const xs = [], ys = [];
    (cols||[]).forEach(r => { for (let j=1;j<r.length;j++){ xs.push(r[0]*p.unit); ys.push(r[j]); } });
    (rows||[]).forEach(r => { for (let j=1;j<r.length;j++){ xs.push(r[j]*p.unit); ys.push(r[0]); } });
    traces.push({type:'scatter', mode:'markers', x:xs, y:ys, xaxis:'x'+sfx, yaxis:'y'+sfx,
      marker:{color:COLORS[c], size:5.5, line:{width:0}}, hoverinfo:'skip', showlegend:false});
  });
  const [x0,x1] = colPx[col], [yt,yb] = rowPx[row];
  layout['xaxis'+sfx] = {domain:[x0/W, x1/W], range:xRanges[i], anchor:'y'+sfx, tick0:0, dtick:xTickSteps[i], tickformat:'d',
    showline:true, mirror:true, linecolor:'#3a3a3a', linewidth:1, ticks:'outside', ticklen:4, tickwidth:1, tickcolor:'#3a3a3a',
    tickfont:tickFont, showgrid:false, zeroline:false, fixedrange:true};
  layout['yaxis'+sfx] = {domain:[1-yb/H, 1-yt/H], range:yRange, anchor:'x'+sfx, tickvals:yTickVals, ticktext:yTickText,
    showline:true, mirror:true, linecolor:'#3a3a3a', linewidth:1, ticks:'outside', ticklen:4, tickwidth:1, tickcolor:'#3a3a3a',
    tickfont:tickFont, showgrid:false, zeroline:false, fixedrange:true};
  layout.annotations.push({text:titles[i], xref:'paper', yref:'paper', x:(x0+x1)/2/W, y:1-titleY[row]/H, xanchor:'center', yanchor:'middle',
    showarrow:false, font:{family:'DejaVu Sans, sans-serif', size:21, color:'#111'}});
});

Plotly.newPlot('chart', traces, layout, {staticPlot:true, displayModeBar:false});
</script></body></html>
